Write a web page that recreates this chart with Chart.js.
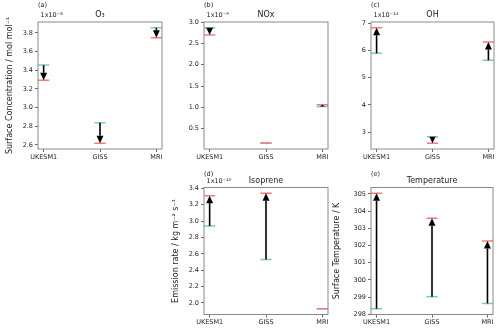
<!DOCTYPE html>
<html>
<head>
<meta charset="utf-8">
<script src="https://cdn.jsdelivr.net/npm/chart.js@4"></script>
<style>
  body { margin: 0; background: #fff; }
  #wrap { position: relative; width: 500px; height: 329px; overflow: hidden; }
  canvas { position: absolute; }
</style>
</head>
<body>
<div id="wrap">
  <canvas id="pa" width="165" height="165" style="left:0;top:0"></canvas>
  <canvas id="pb" width="165" height="165" style="left:165px;top:0"></canvas>
  <canvas id="pc" width="170" height="165" style="left:330px;top:0"></canvas>
  <canvas id="pd" width="165" height="169" style="left:165px;top:160px"></canvas>
  <canvas id="pe" width="170" height="169" style="left:330px;top:160px"></canvas>
</div>
<script>
const categories = ['UKESM1', 'GISS', 'MRI'];

// values (in units of the offset printed top-left)
const o3Start = [3.455, 2.838, 3.855];
const o3End = [3.292, 2.618, 3.748];
const o3Ticks = [2.6, 2.8, 3.0, 3.2, 3.4, 3.6, 3.8];

const noxStart = [2.87, 0.155, 1.02];
const noxEnd = [2.70, 0.16, 1.06];
const noxTicks = [0.5, 1.0, 1.5, 2.0, 2.5, 3.0];

const ohStart = [5.90, 2.83, 5.64];
const ohEnd = [6.84, 2.59, 6.32];
const ohTicks = [3, 4, 5, 6, 7];

const isoStart = [2.94, 2.53, 1.93];
const isoEnd = [3.31, 3.34, 1.93];
const isoTicks = [2.0, 2.2, 2.4, 2.6, 2.8, 3.0, 3.2, 3.4];

const tempStart = [298.33, 299.03, 298.64];
const tempEnd = [305.04, 303.59, 302.27];
const tempTicks = [298, 299, 300, 301, 302, 303, 304, 305];

const TEAL = '#7cc8c8';
const RED = '#f27c7c';

Chart.defaults.font.family = 'DejaVu Sans';
Chart.defaults.font.size = 6.5;
Chart.defaults.color = '#222';

function caps(values) {
    return values.flatMap((v, i) => [
        { x: i - 0.1, y: v },
        { x: i + 0.1, y: v },
        { x: i + 0.5, y: null }
    ]);
}

function makePanel(id, p) {
    const all = p.start.concat(p.end);
    const lo = Math.min(...all), hi = Math.max(...all);
    const pad = (hi - lo) * 0.05;

    const arrows = {
        id: 'arrows',
        afterDatasetsDraw(chart) {
            const { ctx, scales: { x, y } } = chart;
            ctx.save();
            p.start.forEach((s, i) => {
                const e = p.end[i];
                const px = x.getPixelForValue(i);
                const y0 = y.getPixelForValue(s);
                const y1 = y.getPixelForValue(e);
                const len = Math.abs(y1 - y0);
                if (len < 0.5) return;
                const dir = y1 > y0 ? 1 : -1;
                const hl = Math.min(7.5, len);
                const hw = Math.max(2.5, 3.5 * hl / 7.5);
                ctx.strokeStyle = '#000';
                ctx.fillStyle = '#000';
                ctx.lineWidth = 1.6;
                if (len > hl) {
                    ctx.beginPath();
                    ctx.moveTo(px, y0);
                    ctx.lineTo(px, y1 - dir * hl);
                    ctx.stroke();
                }
                ctx.beginPath();
                ctx.moveTo(px - hw, y1 - dir * hl);
                ctx.lineTo(px + hw, y1 - dir * hl);
                ctx.lineTo(px, y1);
                ctx.closePath();
                ctx.fill();
            });
            ctx.restore();
        }
    };

    const frame = {
        id: 'frame',
        afterDraw(chart) {
            const { ctx, chartArea: a } = chart;
            ctx.save();
            ctx.strokeStyle = '#8a8a8a';
            ctx.lineWidth = 1;
            ctx.strokeRect(a.left, a.top, a.right - a.left, a.bottom - a.top);
            ctx.fillStyle = '#222';
            ctx.textBaseline = 'middle';
            ctx.font = '6.5px "DejaVu Sans"';
            ctx.textAlign = 'left';
            ctx.fillText(p.tag, a.left, a.top - p.tagUp);
            if (p.offset) ctx.fillText(p.offset, a.left + 2.5, a.top - 6.5);
            ctx.font = '8px "DejaVu Sans"';
            ctx.textAlign = 'center';
            ctx.fillText(p.title, (a.left + a.right) / 2, a.top - 7);
            ctx.restore();
        }
    };

    new Chart(document.getElementById(id), {
        type: 'scatter',
        data: {
            datasets: [
                // lower order is drawn on top, so the red (end) caps sit over the teal ones
                { data: caps(p.start), order: 2, showLine: true, spanGaps: false, borderColor: TEAL, borderWidth: 1.5, pointRadius: 0 },
                { data: caps(p.end), order: 1, showLine: true, spanGaps: false, borderColor: RED, borderWidth: 1.5, pointRadius: 0 }
            ]
        },
        options: {
            responsive: false,
            animation: false,
            layout: { padding: { top: p.padTop, right: p.padRight, left: 0, bottom: 0 } },
            plugins: { legend: { display: false }, tooltip: { enabled: false } },
            scales: {
                x: {
                    type: 'linear',
                    min: -0.1,
                    max: 2.1,
                    afterBuildTicks: s => { s.ticks = categories.map((c, i) => ({ value: i })); },
                    afterFit: s => { s.height = p.xH; },
                    ticks: { callback: v => categories[v], maxRotation: 0, autoSkip: false, padding: 1 },
                    grid: { drawOnChartArea: false, tickLength: 3, color: '#444', lineWidth: 0.8 },
                    border: { display: false }
                },
                y: {
                    min: lo - pad,
                    max: hi + pad,
                    afterBuildTicks: s => { s.ticks = p.ticks.map(v => ({ value: v })); },
                    afterFit: s => { s.width = p.yW; },
                    ticks: { callback: v => v.toFixed(p.dec), padding: 2 },
                    grid: { drawOnChartArea: false, tickLength: 3, color: '#444', lineWidth: 0.8 },
                    border: { display: false },
                    title: {
                        display: !!p.ylabel,
                        text: p.ylabel || '',
                        font: { size: 8 },
                        padding: { top: p.ytitlePad, bottom: 0 }
                    }
                }
            }
        },
        plugins: [arrows, frame]
    });
}

makePanel('pa', { start: o3Start, end: o3End, ticks: o3Ticks, dec: 1, title: 'O\u2083', tag: '(a)', tagUp: 17,
    offset: '1x10\u207b\u2078', ylabel: 'Surface Concentration / mol mol\u207b\u00b9', ytitlePad: 5,
    yW: 38, xH: 16, padTop: 22, padRight: 3 });
makePanel('pb', { start: noxStart, end: noxEnd, ticks: noxTicks, dec: 1, title: 'NOx', tag: '(b)', tagUp: 17,
    offset: '1x10\u207b\u2079', yW: 39, xH: 16, padTop: 22, padRight: 2 });
makePanel('pc', { start: ohStart, end: ohEnd, ticks: ohTicks, dec: 0, title: 'OH', tag: '(c)', tagUp: 17,
    offset: '1x10\u207b\u00b9\u2074', yW: 41, xH: 16, padTop: 22, padRight: 6 });
makePanel('pd', { start: isoStart, end: isoEnd, ticks: isoTicks, dec: 1, title: 'Isoprene', tag: '(d)', tagUp: 13.5,
    offset: '1x10\u207b\u00b9\u2070', ylabel: 'Emission rate / kg m\u207b\u00b2 s\u207b\u00b9', ytitlePad: 6.2,
    yW: 39, xH: 14.5, padTop: 27.5, padRight: 2 });
makePanel('pe', { start: tempStart, end: tempEnd, ticks: tempTicks, dec: 0, title: 'Temperature', tag: '(e)', tagUp: 13.5,
    offset: '', ylabel: 'Surface Temperature / K', ytitlePad: 2.2,
    yW: 41, xH: 14.5, padTop: 27.5, padRight: 7 });
</script>
</body>
</html>
